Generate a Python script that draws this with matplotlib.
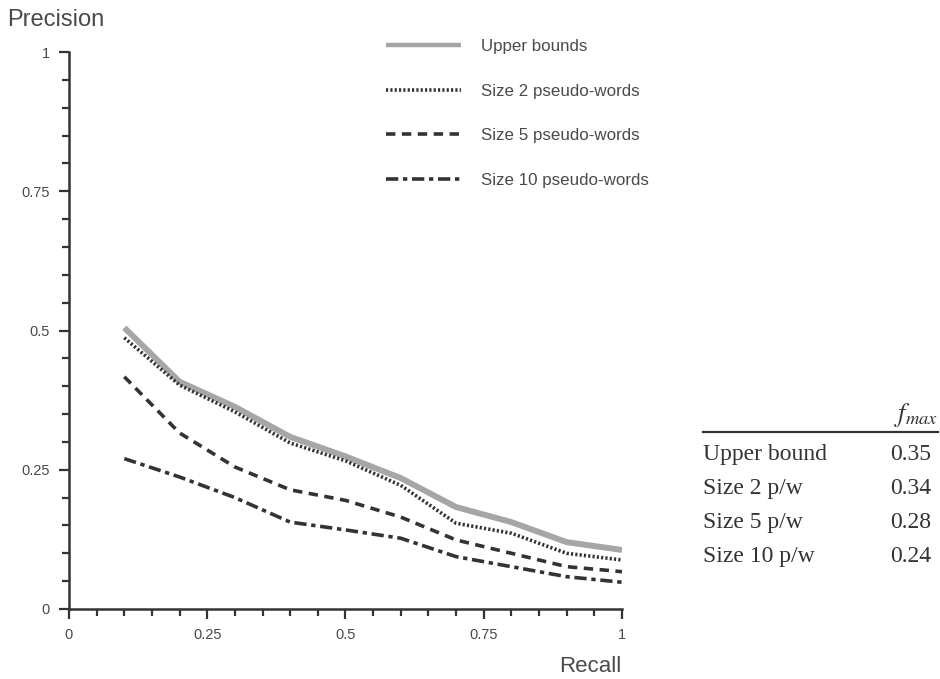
import matplotlib.pyplot as plt
from matplotlib.ticker import MultipleLocator

recall = [0.1, 0.2, 0.3, 0.4, 0.5, 0.6, 0.7, 0.8, 0.9, 1.0]
upper = [0.505, 0.408, 0.363, 0.309, 0.274, 0.235, 0.183, 0.156, 0.120, 0.106]
size2 = [0.487, 0.402, 0.354, 0.298, 0.266, 0.222, 0.154, 0.136, 0.100, 0.088]
size5 = [0.417, 0.316, 0.255, 0.214, 0.195, 0.165, 0.124, 0.100, 0.076, 0.067]
size10 = [0.270, 0.237, 0.200, 0.156, 0.142, 0.127, 0.094, 0.076, 0.058, 0.048]

labels = ['Upper bounds', 'Size 2 pseudo-words', 'Size 5 pseudo-words', 'Size 10 pseudo-words']
table_names = ['Upper bound', 'Size 2 p/w', 'Size 5 p/w', 'Size 10 p/w']
table_fmax = ['0.35', '0.34', '0.28', '0.24']

plt.rcParams['font.family'] = ['Liberation Sans', 'DejaVu Sans']
dark = '#333333'
txt = '#4a4a4a'

fig = plt.figure(figsize=(9.4, 6.79), dpi=100)
ax = fig.add_axes([0.0734, 0.1031, 0.5883, 0.8203])

ax.plot(recall, upper, color='#a6a6a6', lw=4.3, solid_capstyle='butt', label=labels[0])
ax.plot(recall, size2, color=dark, lw=2.6, linestyle=(0, (0.6, 0.6)), label=labels[1])
ax.plot(recall, size5, color=dark, lw=2.6, linestyle=(0, (2.6, 1.8)), label=labels[2])
ax.plot(recall, size10, color=dark, lw=2.6, linestyle=(0, (3.4, 1.3, 1.2, 1.3)), label=labels[3])

ax.set_xlim(0, 1)
ax.set_ylim(0, 1)
for s in ['top', 'right']:
    ax.spines[s].set_visible(False)
for s in ['left', 'bottom']:
    ax.spines[s].set_color(dark)
    ax.spines[s].set_linewidth(1.8)

ax.set_xticks([0, 0.25, 0.5, 0.75, 1])
ax.set_xticklabels(['0', '0.25', '0.5', '0.75', '1'])
ax.set_yticks([0, 0.25, 0.5, 0.75, 1])
ax.set_yticklabels(['0', '0.25', '0.5', '0.75', '1'])
ax.xaxis.set_minor_locator(MultipleLocator(0.05))
ax.yaxis.set_minor_locator(MultipleLocator(0.05))
ax.tick_params(which='both', direction='out', color=dark, width=1.6, labelsize=10.5,
               labelcolor=txt)
ax.tick_params(which='major', length=7, pad=7)
ax.tick_params(which='minor', length=5)

fig.text(7 / 940, 1 - 26 / 679, 'Precision', fontsize=17, color=txt, va='baseline', ha='left')
fig.text(621 / 940, 1 - 672 / 679, 'Recall', fontsize=16, color=txt, va='baseline', ha='right')

leg = ax.legend(loc='upper left', bbox_to_anchor=(0.546, 1.05), frameon=False, fontsize=12.2,
                handlelength=4.4, handletextpad=1.2, labelspacing=1.74)
for t in leg.get_texts():
    t.set_color(txt)
leg.get_lines()[0].set_linewidth(3.2)

# f_max table
serif = ['Liberation Serif', 'DejaVu Serif']
fig.text(938 / 940, 1 - 421 / 679, r'$f_{max}$', fontsize=19, color=dark, ha='right', va='baseline',
         math_fontfamily='stix')
fig.add_artist(plt.Line2D([703 / 940, 938 / 940], [1 - 432 / 679, 1 - 432 / 679],
                          color=dark, lw=1.6))
for i, (name, val) in enumerate(zip(table_names, table_fmax)):
    y = 1 - (460 + 34 * i) / 679
    fig.text(703 / 940, y, name, fontsize=17, color=dark, family=serif, ha='left', va='baseline')
    fig.text(931 / 940, y, val, fontsize=17, color=dark, family=serif, ha='right', va='baseline')

fig.savefig('out.png', dpi=100)
